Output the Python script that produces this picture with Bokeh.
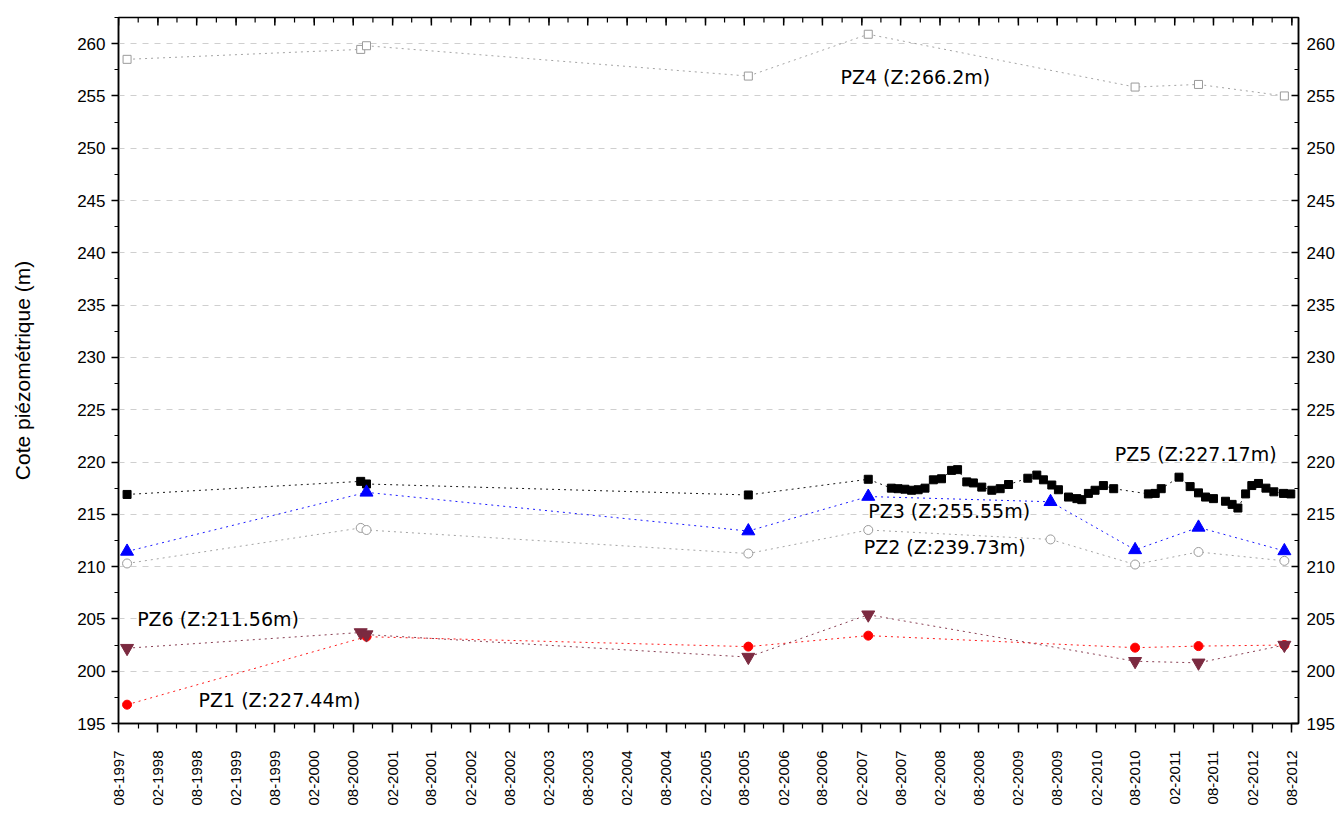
import math
from datetime import datetime
import pandas as pd
from bokeh.plotting import figure
from bokeh.models import (Range1d, LinearAxis, SingleIntervalTicker,
                          FixedTicker, DatetimeTickFormatter, ColumnDataSource)
from bokeh.core.properties import value
from bokeh.embed import file_html
from bokeh.resources import INLINE

# ---------------- data ----------------
pz4_dates = ["1997-09-10", "2000-09-05", "2000-10-02", "2005-08-20", "2007-03-03",
             "2010-07-31", "2011-05-23", "2012-06-27"]
pz4_vals = [258.5, 259.45, 259.8, 256.9, 260.9, 255.85, 256.1, 255.0]

pz5_dates = ["1997-09-10", "2000-09-05", "2000-10-02", "2005-08-20", "2007-03-03",
             "2007-06-19", "2007-07-20", "2007-08-21", "2007-09-21", "2007-10-22", "2007-11-23",
             "2008-01-01", "2008-02-08", "2008-03-26", "2008-04-23", "2008-06-05", "2008-07-06",
             "2008-08-14", "2008-09-30", "2008-11-08", "2008-12-17",
             "2009-03-17", "2009-04-28", "2009-05-29", "2009-07-07", "2009-08-07", "2009-09-23",
             "2009-11-01", "2009-11-24", "2009-12-25", "2010-01-25", "2010-03-05", "2010-04-22",
             "2010-10-01", "2010-11-02", "2010-11-30", "2011-02-21", "2011-04-14", "2011-05-23",
             "2011-06-25", "2011-08-01", "2011-09-26", "2011-10-27", "2011-11-23", "2011-12-29",
             "2012-01-27", "2012-02-27", "2012-04-02", "2012-05-09", "2012-06-23", "2012-07-27"]
pz5_vals = [216.9, 218.15, 217.9, 216.85, 218.35,
            217.5, 217.45, 217.4, 217.3, 217.35, 217.5,
            218.3, 218.4, 219.2, 219.27, 218.1, 218.0,
            217.6, 217.3, 217.45, 217.85,
            218.45, 218.75, 218.3, 217.8, 217.35, 216.65,
            216.5, 216.4, 217.0, 217.3, 217.75, 217.45,
            216.95, 217.0, 217.45, 218.55, 217.65, 217.05,
            216.65, 216.5, 216.25, 215.95, 215.6, 216.95,
            217.75, 217.95, 217.5, 217.15, 217.0, 216.95]

pz3_dates = ["1997-09-10", "2000-10-02", "2005-08-20", "2007-03-03", "2009-07-01",
             "2010-07-31", "2011-05-23", "2012-06-27"]
pz3_vals = [211.45, 217.1, 213.4, 216.7, 216.2, 211.6, 213.75, 211.5]

pz2_dates = ["1997-09-10", "2000-09-05", "2000-10-02", "2005-08-20", "2007-03-03",
             "2009-07-01", "2010-07-31", "2011-05-23", "2012-06-27"]
pz2_vals = [210.3, 213.7, 213.5, 211.25, 213.5, 212.6, 210.2, 211.4, 210.55]

pz1_dates = ["1997-09-10", "2000-10-02", "2005-08-20", "2007-03-03",
             "2010-07-31", "2011-05-23", "2012-06-27"]
pz1_vals = [196.8, 203.3, 202.35, 203.4, 202.25, 202.4, 202.5]

pz6_dates = ["1997-09-10", "2000-09-05", "2000-10-02", "2005-08-20", "2007-03-03",
             "2010-07-31", "2011-05-23", "2012-06-27"]
pz6_vals = [202.2, 203.7, 203.5, 201.35, 205.4, 200.95, 200.8, 202.5]

label_text = ["PZ4 (Z:266.2m)", "PZ5 (Z:227.17m)", "PZ3 (Z:255.55m)",
              "PZ2 (Z:239.73m)", "PZ6 (Z:211.56m)", "PZ1 (Z:227.44m)"]
label_x = ["2006-10-24", "2010-04-27", "2007-03-03", "2007-02-10", "1997-10-27", "1998-08-10"]
label_y = [256.85, 220.8, 215.3, 211.9, 204.95, 197.2]

y_title = "Cote piézométrique (m)"

X_START, X_END = datetime(1997, 8, 1), datetime(2012, 9, 1)
Y_START, Y_END = 195, 262.5

# ---------------- figure ----------------
p = figure(x_axis_type="datetime", frame_width=1180, frame_height=706,
           x_range=Range1d(X_START, X_END), y_range=Range1d(Y_START, Y_END),
           output_backend="svg", toolbar_location=None, title=None,
           min_border_left=118, min_border_top=17, min_border_right=36, min_border_bottom=5,
           background_fill_color="white", border_fill_color="white")
p.outline_line_color = "black"
p.outline_line_width = 1.5

major_dates = pd.date_range("1997-08-01", "2012-08-01", freq="6MS")
minor_dates = pd.date_range("1997-08-01", "2012-08-01", freq="3MS")
epoch = pd.Timestamp("1970-01-01")
def to_ms(idx):
    return [(d - epoch).total_seconds() * 1000.0 for d in idx]

xticker = FixedTicker(ticks=to_ms(major_dates), minor_ticks=to_ms(minor_dates))
fmt_str = "%m-%Y"
xfmt = DatetimeTickFormatter(microseconds=fmt_str, milliseconds=fmt_str, seconds=fmt_str,
                             minsec=fmt_str, minutes=fmt_str, hourmin=fmt_str, hours=fmt_str,
                             days=fmt_str, months=fmt_str, years=fmt_str)
yticker = SingleIntervalTicker(interval=5, num_minor_ticks=2)

def style_axis(ax):
    ax.axis_line_color = "black"
    ax.axis_line_width = 1.5
    ax.major_tick_line_color = "black"
    ax.major_tick_line_width = 1.5
    ax.minor_tick_line_color = "black"
    ax.minor_tick_line_width = 1.2

# bottom axis
xb = p.xaxis[0]
xb.ticker = xticker
xb.formatter = xfmt
style_axis(xb)
xb.major_tick_out = 9
xb.major_tick_in = 0
xb.minor_tick_out = 5
xb.minor_tick_in = 0
xb.major_label_orientation = math.pi / 2
xb.major_label_standoff = 18
xb.major_label_text_font = "Liberation Sans"
xb.major_label_text_font_size = "15px"
xb.major_label_text_color = "black"

# left axis
yl = p.yaxis[0]
yl.ticker = yticker
style_axis(yl)
yl.major_tick_out = 7
yl.major_tick_in = 0
yl.minor_tick_out = 4
yl.minor_tick_in = 0
yl.major_label_standoff = 6
yl.major_label_text_font = "Liberation Sans"
yl.major_label_text_font_size = "17px"
yl.major_label_text_color = "black"
yl.axis_label = y_title
yl.axis_label_text_font = "Liberation Sans"
yl.axis_label_text_font_size = "21px"
yl.axis_label_text_font_style = "normal"
yl.axis_label_text_color = "black"
yl.axis_label_standoff = 40

# right axis
yr = LinearAxis(ticker=yticker)
style_axis(yr)
yr.major_tick_out = 0
yr.major_tick_in = 7
yr.minor_tick_out = 0
yr.minor_tick_in = 4
yr.major_label_standoff = 8
yr.major_label_text_font = "Liberation Sans"
yr.major_label_text_font_size = "17px"
yr.major_label_text_color = "black"
p.add_layout(yr, "right")

# top edge: inward ticks (half of each dash is clipped by the frame)
top_major = ColumnDataSource(dict(x=major_dates, y=[Y_END] * len(major_dates)))
top_minor = ColumnDataSource(dict(x=minor_dates, y=[Y_END] * len(minor_dates)))
p.scatter("x", "y", source=top_minor, marker="dash", angle=math.pi / 2, size=10,
          line_color="black", line_width=1.2)
p.scatter("x", "y", source=top_major, marker="dash", angle=math.pi / 2, size=16,
          line_color="black", line_width=1.5)

# grid
p.xgrid.visible = False
p.ygrid.ticker = yticker
p.ygrid.grid_line_color = "#cfcfcf"
p.ygrid.grid_line_dash = "6 6"
p.ygrid.grid_line_width = 1

# ---------------- series ----------------
def series(dates, vals, color, marker, size, fill):
    src = ColumnDataSource(dict(x=pd.to_datetime(dates), y=vals))
    p.line("x", "y", source=src, line_color=color, line_width=1, line_dash="2 4", line_alpha=0.9)
    p.scatter("x", "y", source=src, marker=marker, size=size,
              fill_color=fill, line_color=color, line_width=1)

series(pz4_dates, pz4_vals, "#9a9a9a", "square", 8, "white")
series(pz2_dates, pz2_vals, "#9a9a9a", "circle", 9, "white")
series(pz5_dates, pz5_vals, "black", "square", 8, "black")
series(pz3_dates, pz3_vals, "#0000ff", "triangle", 13, "#0000ff")
series(pz1_dates, pz1_vals, "#ff0000", "circle", 9, "#ff0000")
series(pz6_dates, pz6_vals, "#7b2a40", "inverted_triangle", 13, "#7b2a40")

lsrc = ColumnDataSource(dict(x=pd.to_datetime(label_x), y=label_y, t=label_text))
p.text("x", "y", text="t", source=lsrc, text_font=value("DejaVu Sans"),
       text_font_size="19px", text_baseline="middle", text_align="left", text_color="black")

with open("out.html", "w") as f:
    f.write(file_html(p, INLINE))
